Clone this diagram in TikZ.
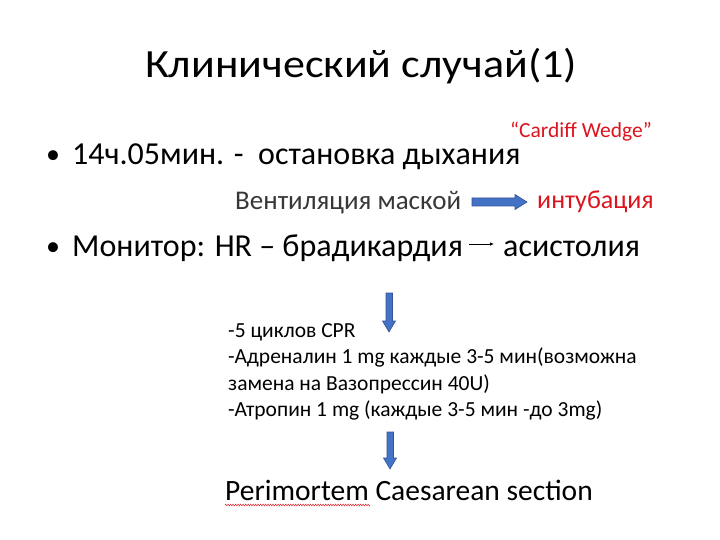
\documentclass[tikz,border=0pt]{standalone}
\usepackage{fontspec}
\setmainfont{Carlito}
\usetikzlibrary{arrows.meta,decorations.pathmorphing}
\definecolor{ppred}{RGB}{220,20,30}
\definecolor{ppblue}{RGB}{68,114,196}
\definecolor{ppblueline}{RGB}{50,85,150}
\definecolor{ppgray}{RGB}{55,55,55}
\begin{document}
\begin{tikzpicture}[x=1pt,y=-1pt,
  txt/.style={inner sep=0pt,anchor=base west},
  bigarrow/.style={draw=ppblueline,fill=ppblue,line width=0.6pt}]
\useasboundingbox (0,0) rectangle (720,540);
\node[inner sep=0pt,anchor=base,xscale=1.1] (title) at (361,78) {\fontsize{40}{44}\selectfont Клинический случай(1)};
\node[txt] (b1) at (46,164) {\fontsize{28}{32}\selectfont •};
\node[txt] (t1) at (72,165) {\fontsize{32}{36}\selectfont 14ч.05мин. -\ \ остановка дыхания};
\node[txt,text=ppred] (cw) at (510,138) {\fontsize{21.5}{24}\selectfont “Cardiff Wedge”};
\node[txt,text=ppgray] (vent) at (235,210) {\fontsize{27}{30}\selectfont Вентиляция маской};
\node[txt,text=ppred] (intub) at (537,208) {\fontsize{26}{30}\selectfont интубация};
\node[txt] (b2) at (46,255) {\fontsize{28}{32}\selectfont •};
\node[txt] (t2) at (72,256) {\fontsize{32}{36}\selectfont Монитор: HR – брадикардия};
\node[txt] (asys) at (503,256) {\fontsize{32}{36}\selectfont асистолия};
\coordinate (a1s) at (469,244);
\coordinate (a1e) at (494,244);
\draw[-{Latex[length=4pt,width=3.5pt]},line width=0.9pt] (a1s) -- (a1e);
% blue right arrow
\draw[bigarrow] (472,198) -- (515,198) -- (515,194.5) -- (527,202) -- (515,209.5) -- (515,206) -- (472,206) -- cycle;
% down arrows
\draw[bigarrow] (386,293) -- (392.5,293) -- (392.5,321) -- (395.5,321) -- (389,332) -- (382.5,321) -- (386,321) -- cycle;
\draw[bigarrow] (387,432) -- (393.5,432) -- (393.5,458) -- (396.5,458) -- (390,469) -- (383.5,458) -- (387,458) -- cycle;
\node[txt] (l1) at (228,337) {\fontsize{21.5}{24}\selectfont -5 циклов CPR};
\node[txt] (l2) at (228,363) {\fontsize{21.5}{24}\selectfont -Адреналин 1 mg каждые 3-5 мин(возможна};
\node[txt] (l3) at (228,390) {\fontsize{21.5}{24}\selectfont замена на Вазопрессин 40U)};
\node[txt] (l4) at (228,416) {\fontsize{21.5}{24}\selectfont -Атропин 1 mg (каждые 3-5 мин -до 3mg)};
\node[txt] (pcs) at (225,500) {\fontsize{29.5}{33}\selectfont Perimortem Caesarean section};
\draw[ppred,line width=0.4pt,decorate,decoration={zigzag,amplitude=1pt,segment length=2.5pt}] (225,505) -- (370,505);
\end{tikzpicture}
\end{document}
